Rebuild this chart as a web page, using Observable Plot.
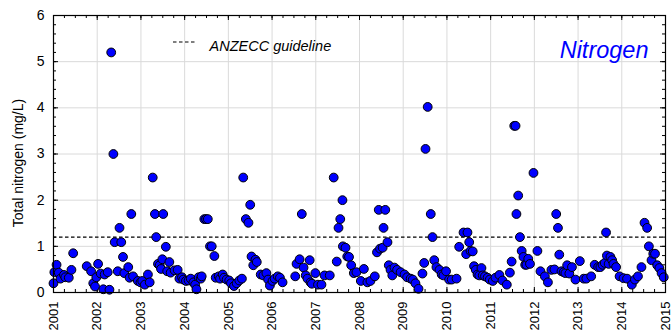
<!DOCTYPE html>
<html><head><meta charset="utf-8">
<script src="https://cdn.jsdelivr.net/npm/d3@7"></script>
<script src="https://cdn.jsdelivr.net/npm/@observablehq/plot@0.6"></script>
<style>body{margin:0;background:#fff;} svg{font-family:"Liberation Sans",Arial,sans-serif;}</style>
</head><body><div id="chart"></div>
<script>
// sampling date (decimal years)
const sampleYear = [
2001.00,2001.02,2001.07,2001.12,2001.16,2001.24,2001.27,2001.35,2001.41,2001.45,
2001.76,2001.86,2001.91,2001.95,2001.98,2002.02,2002.08,2002.14,2002.17,2002.24,
2002.28,2002.32,2002.37,2002.40,2002.47,2002.51,2002.55,2002.59,2002.62,2002.71,
2002.74,2002.78,2002.82,2002.93,2002.99,2003.03,2003.09,2003.16,2003.20,2003.27,
2003.32,2003.35,2003.39,2003.43,2003.46,2003.49,2003.51,2003.57,2003.60,2003.65,
2003.68,2003.77,2003.84,2003.88,2003.94,2003.97,2004.03,2004.09,2004.14,2004.20,
2004.24,2004.27,2004.32,2004.37,2004.39,2004.45,2004.49,2004.53,2004.58,2004.62,
2004.68,2004.71,2004.78,2004.81,2004.87,2004.90,2004.96,2005.02,2005.06,2005.13,
2005.19,2005.25,2005.31,2005.34,2005.40,2005.46,2005.50,2005.53,2005.57,2005.62,
2005.65,2005.74,2005.80,2005.87,2005.91,2005.95,2006.01,2006.06,2006.13,2006.18,
2006.24,2006.53,2006.56,2006.63,2006.68,2006.72,2006.77,2006.81,2006.86,2006.88,
2006.91,2006.99,2007.05,2007.13,2007.20,2007.32,2007.41,2007.48,2007.52,2007.56,
2007.61,2007.62,2007.68,2007.72,2007.76,2007.81,2007.87,2007.93,2008.03,2008.10,
2008.18,2008.25,2008.35,2008.40,2008.44,2008.47,2008.53,2008.55,2008.59,2008.64,
2008.67,2008.71,2008.75,2008.80,2008.86,2008.94,2009.03,2009.09,2009.17,2009.22,
2009.28,2009.35,2009.44,2009.48,2009.51,2009.56,2009.63,2009.67,2009.71,2009.76,
2009.83,2009.88,2009.92,2009.98,2010.05,2010.11,2010.22,2010.28,2010.38,2010.44,
2010.47,2010.51,2010.54,2010.59,2010.62,2010.66,2010.70,2010.74,2010.79,2010.82,
2010.87,2010.93,2010.98,2011.05,2011.11,2011.20,2011.27,2011.37,2011.44,2011.48,
2011.54,2011.57,2011.59,2011.63,2011.67,2011.71,2011.75,2011.79,2011.82,2011.86,
2011.90,2011.98,2012.07,2012.14,2012.24,2012.31,2012.39,2012.46,2012.50,2012.54,
2012.57,2012.62,2012.67,2012.71,2012.75,2012.80,2012.86,2012.94,2013.04,2013.13,
2013.19,2013.30,2013.38,2013.46,2013.51,2013.56,2013.61,2013.64,2013.66,2013.70,
2013.74,2013.78,2013.81,2013.87,2013.95,2014.04,2014.12,2014.23,2014.30,2014.37,
2014.45,2014.52,2014.58,2014.62,2014.68,2014.72,2014.76,2014.81,2014.86,2014.91,
2014.96
];
// total nitrogen (mg/L)
const totalN = [
0.20,0.44,0.60,0.43,0.30,0.38,0.33,0.32,0.49,0.85,
0.57,0.46,0.20,0.13,0.33,0.62,0.41,0.07,0.39,0.44,
0.06,5.20,3.00,1.09,0.46,1.40,1.09,0.77,0.42,0.55,
0.32,1.70,0.35,0.25,0.22,0.25,0.17,0.39,0.22,2.49,
1.70,1.20,0.62,0.59,0.51,0.72,1.70,0.99,0.46,0.66,
0.43,0.48,0.49,0.30,0.33,0.28,0.25,0.26,0.30,0.22,
0.17,0.07,0.33,0.30,0.35,1.59,1.59,1.59,1.00,1.00,
0.79,0.32,0.35,0.30,0.39,0.32,0.28,0.26,0.20,0.14,
0.20,0.26,0.30,2.49,1.59,1.51,1.90,0.78,0.59,0.71,
0.66,0.39,0.37,0.42,0.28,0.15,0.25,0.30,0.35,0.32,
0.22,0.35,0.62,0.72,1.70,0.54,0.37,0.30,0.70,0.22,
0.19,0.42,0.17,0.17,0.37,0.37,2.49,0.67,1.40,1.59,
2.00,1.00,0.97,0.78,0.77,0.59,0.42,0.44,0.25,0.51,
0.22,0.25,0.35,0.87,1.79,0.95,0.97,1.40,1.79,1.09,
0.59,0.49,0.37,0.54,0.49,0.44,0.39,0.33,0.30,0.28,
0.20,0.08,0.41,0.64,3.11,4.02,1.70,1.20,0.70,0.55,
0.49,0.39,0.37,0.46,0.28,0.28,0.30,0.99,1.30,0.83,
1.30,1.09,0.90,0.89,0.57,0.49,0.39,0.37,0.53,0.37,
0.35,0.32,0.28,0.25,0.32,0.38,0.26,0.17,0.43,0.67,
3.61,3.61,1.70,2.10,1.20,0.90,0.77,0.60,0.60,0.73,
0.62,2.59,0.90,0.46,0.35,0.22,0.49,0.50,1.70,1.40,
0.82,0.46,0.44,0.42,0.59,0.41,0.55,0.28,0.68,0.30,
0.30,0.35,0.60,0.55,0.55,0.60,0.64,1.30,0.80,0.62,
0.77,0.70,0.62,0.55,0.35,0.31,0.30,0.17,0.28,0.35,
0.55,1.51,1.40,1.00,0.70,0.84,0.84,0.59,0.53,0.42,
0.33
];
const guideline = 1.2;
const yearTicks = [2001,2002,2003,2004,2005,2006,2007,2008,2009,2010,2011,2012,2013,2014,2015];
const yTicks = [0,1,2,3,4,5,6];
const legendLabel = "ANZECC guideline";
const panelLabel = "Nitrogen";
const yLabel = "Total nitrogen (mg/L)";

const W = 672, H = 333, mL = 53, mR = 7, mT = 15, mB = 41;
const pw = W - mL - mR, ph = H - mT - mB;
const n = Math.min(sampleYear.length, totalN.length);
const data = d3.range(n).map(i => ({x: sampleYear[i], y: totalN[i]}));
const minorX = d3.range(2001, 2015.001, 0.25);
const minorY = d3.range(0, 6.001, 0.2);
const grid = "#dadada";

const chart = Plot.plot({
  width: W, height: H,
  marginLeft: mL, marginRight: mR, marginTop: mT, marginBottom: mB,
  style: {fontFamily: '"Liberation Sans", Arial, sans-serif', background: "#fff", color: "black"},
  x: {domain: [2001, 2015]},
  y: {domain: [0, 6]},
  marks: [
    Plot.gridX(yearTicks, {stroke: grid, strokeOpacity: 1}),
    Plot.gridY(yTicks, {stroke: grid, strokeOpacity: 1}),
    Plot.ruleY([guideline], {stroke: "black", strokeDasharray: "3.5,2.5", strokeWidth: 1.2}),
    Plot.tickY(minorY, {y: d => d, insetRight: pw - 3, stroke: "black"}),
    Plot.tickY(yTicks, {y: d => d, insetRight: pw - 5, stroke: "black"}),
    Plot.tickY(minorY, {y: d => d, insetLeft: pw - 3, stroke: "black"}),
    Plot.tickY(yTicks, {y: d => d, insetLeft: pw - 5, stroke: "black"}),
    Plot.tickX(minorX, {x: d => d, insetTop: ph - 3, stroke: "black"}),
    Plot.tickX(yearTicks, {x: d => d, insetTop: ph - 5, stroke: "black"}),
    Plot.tickX(minorX, {x: d => d, insetBottom: ph - 3, stroke: "black"}),
    Plot.tickX(yearTicks, {x: d => d, insetBottom: ph - 5, stroke: "black"}),
    Plot.axisY(yTicks, {tickSize: 0, tickPadding: 9, fontSize: 14, label: null}),
    Plot.axisX(yearTicks, {tickSize: 0, tickPadding: 9, tickRotate: -90, fontSize: 13, tickFormat: d => String(d), label: null}),
    Plot.dot(data, {x: "x", y: "y", r: 4.4, fill: "#0000ff", stroke: "black", strokeWidth: 1}),
    Plot.frame({stroke: "black", strokeWidth: 1.2}),
    Plot.text([legendLabel], {text: d => d, frameAnchor: "top-left", dx: 156, dy: 25, textAnchor: "start", fontStyle: "italic", fontSize: 14.5}),
    Plot.text([panelLabel], {text: d => d, frameAnchor: "top-right", dx: -17, dy: 26, textAnchor: "end", fontStyle: "italic", fontSize: 23.5, fill: "#0000ff"})
  ]
});
const svg = d3.select(chart);
// legend sample for the dashed guideline
svg.append("line")
  .attr("x1", mL + 120).attr("x2", mL + 144)
  .attr("y1", mT + 27).attr("y2", mT + 27)
  .attr("stroke", "black").attr("stroke-width", 1.2).attr("stroke-dasharray", "3.5,2.5");
// y-axis title
svg.append("text")
  .attr("transform", "translate(18,163) rotate(-90)")
  .attr("text-anchor", "middle").attr("dy", "0.35em")
  .attr("font-size", 14).attr("fill", "black")
  .text(yLabel);
document.getElementById("chart").appendChild(chart);
</script>
</body></html>
